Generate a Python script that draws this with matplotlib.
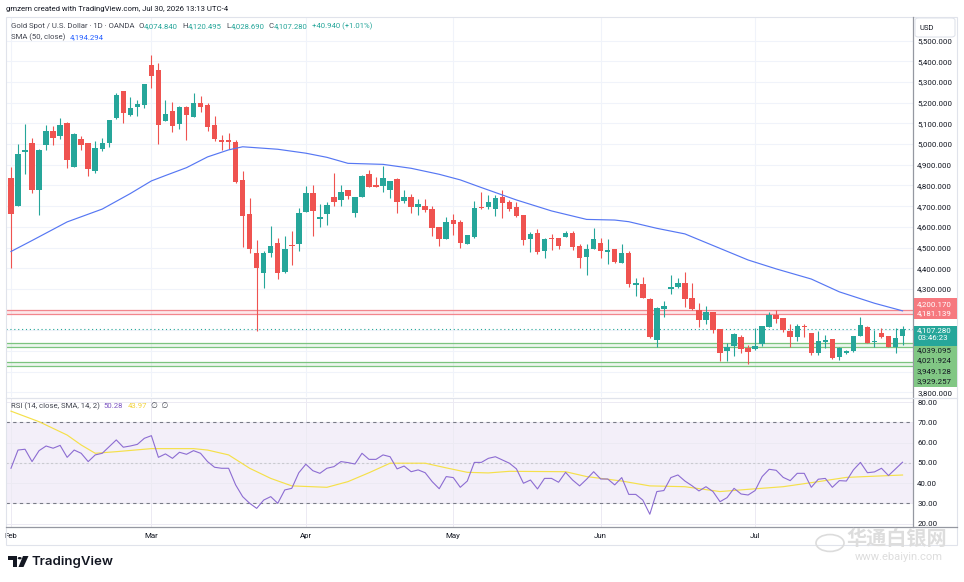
import matplotlib.pyplot as plt
from matplotlib.patches import Rectangle, FancyBboxPatch, Polygon, Circle
from matplotlib.lines import Line2D
import numpy as np
import pandas as pd

plt.rcParams['font.family'] = ['Roboto', 'DejaVu Sans']

W, H = 964, 582
UP, DOWN = '#26A69A', '#EF5350'
TXT = '#131722'
GRAY = '#434651'

# ---------------- data ----------------
dates = pd.bdate_range('2026-02-02', '2026-07-30')
dates = dates[dates != pd.Timestamp('2026-04-03')]  # Good Friday, no bar

opens = [4834.8, 4702.4, 4963.3, 5003.9, 4778.3, 4995.7, 5063.3, 5039.1, 5102.0, 4890.8,
         5024.7, 5003.9, 4870.0, 4976.3, 5003.9, 5124.6, 5255.1, 5140.6, 5180.7, 5188.9,
         5382.1, 5358.0, 5113.1, 5159.9, 5097.1, 5179.2, 5132.4, 5198.6, 5188.9, 5092.3,
         5018.4, 5018.4, 5010.2, 4826.6, 4660.9, 4472.5, 4378.7, 4475.4, 4520.8, 4383.6,
         4512.6, 4517.4, 4673.4, 4762.3, 4636.7, 4660.9, 4744.5, 4728.5, 4776.8, 4668.6,
         4745.9, 4854.1, 4801.0, 4797.6, 4778.3, 4830.0, 4726.6, 4743.0, 4697.6, 4701.0,
         4685.0, 4599.5, 4541.6, 4633.3, 4625.1, 4518.8, 4549.8, 4694.7, 4694.7, 4687.9,
         4743.0, 4718.8, 4696.1, 4657.5, 4543.0, 4570.5, 4483.6, 4546.4, 4546.4, 4552.7,
         4570.5, 4506.3, 4456.0, 4493.2, 4522.2, 4480.2, 4491.8, 4427.1, 4473.9, 4317.9,
         4324.2, 4251.7, 4053.6, 4204.8, 4298.6, 4308.2, 4327.5, 4255.1, 4198.5, 4150.2,
         4188.9, 4106.8, 4000.5, 4026.1, 4069.6, 4013.5, 4008.7, 4032.8, 4117.9, 4174.4,
         4158.5, 4098.5, 4066.7, 4121.3, 4086.0, 3992.3, 4045.4, 4057.0, 3972.9, 3989.4,
         4000.5, 4072.9, 4115.0, 4044.0, 4086.0, 4072.9, 4021.3, 4074.84]
highs = [4889.4, 5000.5, 5097.1, 5028.0, 4975.0, 5092.3, 5087.5, 5126.1, 5105.0, 5053.6,
         5040.6, 5006.0, 5013.5, 5028.0, 5118.0, 5245.4, 5258.0, 5229.0, 5213.1, 5291.0,
         5430.5, 5390.4, 5213.1, 5203.4, 5184.0, 5184.0, 5248.3, 5232.4, 5197.1, 5135.8,
         5044.0, 5053.6, 5019.8, 4870.0, 4738.2, 4536.7, 4483.6, 4604.4, 4547.8, 4556.0,
         4580.2, 4689.9, 4797.6, 4803.9, 4709.2, 4721.7, 4861.8, 4802.4, 4779.0, 4745.0,
         4850.7, 4874.9, 4842.5, 4894.2, 4824.0, 4834.8, 4778.3, 4758.9, 4733.3, 4734.8,
         4701.0, 4601.0, 4646.4, 4663.8, 4633.3, 4561.0, 4725.1, 4767.2, 4754.1, 4754.1,
         4778.3, 4730.0, 4720.3, 4659.0, 4575.4, 4588.4, 4547.8, 4565.7, 4548.0, 4578.7,
         4578.7, 4517.4, 4517.4, 4593.2, 4544.9, 4541.6, 4494.7, 4517.4, 4483.6, 4351.7,
         4359.4, 4258.0, 4214.5, 4242.0, 4366.2, 4353.0, 4380.7, 4327.5, 4230.9, 4217.9,
         4190.0, 4108.0, 4037.7, 4088.9, 4077.8, 4029.5, 4110.1, 4123.0, 4190.3, 4198.5,
         4160.0, 4129.5, 4129.5, 4129.5, 4087.0, 4098.5, 4077.8, 4058.0, 4018.0, 4005.3,
         4074.0, 4163.3, 4121.3, 4101.9, 4110.1, 4074.0, 4110.1, 4120.495]
lows = [4402.9, 4699.5, 4854.1, 4762.3, 4657.5, 4971.5, 4995.7, 5026.1, 4886.0, 4888.0,
        4970.0, 4847.3, 4861.8, 4966.7, 4987.5, 5121.3, 5103.4, 5137.2, 5137.2, 5175.9,
        5272.5, 5001.9, 5113.0, 5058.5, 5071.5, 5021.3, 5130.0, 5156.5, 5064.7, 5016.4,
        4971.5, 4976.3, 4810.6, 4504.4, 4475.4, 4098.5, 4306.3, 4456.0, 4349.8, 4375.8,
        4415.9, 4483.6, 4672.0, 4556.0, 4601.0, 4609.2, 4701.0, 4702.4, 4736.2, 4649.3,
        4744.0, 4791.3, 4792.0, 4770.1, 4741.1, 4668.6, 4716.9, 4668.6, 4658.9, 4670.5,
        4556.0, 4509.2, 4540.0, 4560.9, 4499.5, 4517.0, 4548.0, 4687.9, 4685.0, 4652.7,
        4644.4, 4678.3, 4646.4, 4511.1, 4480.2, 4467.6, 4451.2, 4488.4, 4491.8, 4551.0,
        4488.4, 4400.0, 4366.2, 4492.0, 4451.2, 4419.3, 4427.1, 4426.0, 4311.1, 4266.2,
        4255.0, 4061.8, 4021.3, 4166.2, 4275.8, 4303.4, 4214.5, 4198.5, 4117.9, 4130.9,
        4088.9, 3953.6, 3953.6, 3976.3, 3992.3, 3937.7, 4007.0, 4024.6, 4116.0, 4137.2,
        4093.7, 4018.4, 4050.2, 4066.7, 3981.2, 3981.2, 4016.4, 3961.8, 3957.0, 3984.5,
        3997.1, 4072.0, 4037.7, 4018.4, 4061.8, 4018.4, 3989.4, 4028.69]
closes = [4660.9, 4952.2, 4970.1, 4778.3, 4970.1, 5063.3, 5029.5, 5092.3, 4923.2, 5048.8,
          4995.7, 4881.2, 4981.2, 5003.9, 5116.4, 5237.2, 5148.8, 5173.0, 5193.7, 5288.9,
          5330.4, 5093.7, 5145.4, 5088.9, 5179.2, 5140.6, 5198.6, 5180.7, 5084.1, 5024.7,
          5011.6, 5011.6, 4818.4, 4652.7, 4494.7, 4402.9, 4472.5, 4507.7, 4375.8, 4494.7,
          4509.2, 4668.6, 4762.3, 4678.3, 4649.3, 4705.8, 4720.3, 4768.6, 4749.3, 4743.0,
          4845.9, 4794.2, 4794.2, 4834.8, 4821.7, 4721.7, 4743.0, 4694.7, 4710.6, 4681.6,
          4596.1, 4541.6, 4623.7, 4612.6, 4523.7, 4559.4, 4692.8, 4691.3, 4718.8, 4739.6,
          4716.9, 4687.9, 4652.7, 4536.7, 4567.2, 4480.2, 4543.0, 4543.0, 4509.2, 4570.5,
          4504.4, 4451.2, 4493.2, 4540.1, 4485.0, 4488.4, 4430.4, 4475.4, 4324.2, 4327.5,
          4256.5, 4066.7, 4206.8, 4216.4, 4308.2, 4327.5, 4253.1, 4203.4, 4148.8, 4188.9,
          4101.9, 3992.3, 4021.3, 4082.6, 4008.7, 3997.1, 4024.6, 4121.3, 4174.4, 4155.1,
          4101.9, 4069.6, 4121.3, 4115.0, 3992.3, 4048.8, 4053.6, 3968.1, 4016.4, 4000.5,
          4072.9, 4126.1, 4040.6, 4048.8, 4069.6, 4021.3, 4061.8, 4107.28]

# SMA(50) read at a set of bars
sma_at = [0, 3, 8, 13, 17, 20, 22, 25, 28, 31, 33, 38, 42, 45, 48, 53, 57, 61, 64, 67,
          72, 77, 82, 86, 88, 92, 96, 105, 109, 114, 118, 123, 127]
sma = [4481, 4534, 4624, 4686, 4761, 4822, 4848, 4886, 4938, 4972, 4987, 4975, 4956, 4936,
       4907, 4902, 4883, 4854, 4827, 4790, 4730, 4677, 4636, 4633, 4625, 4593, 4566, 4440,
       4397, 4348, 4286, 4231, 4194.294]

rsi = [47.3, 56.3, 56.7, 50.6, 56.0, 58.3, 57.2, 58.6, 52.7, 56.3,
       54.7, 50.6, 53.9, 54.7, 58.0, 61.3, 57.7, 58.3, 59.1, 62.1,
       63.4, 52.7, 54.4, 52.2, 55.2, 54.2, 56.0, 54.7, 50.6, 47.8,
       47.3, 47.3, 39.1, 33.3, 30.0, 27.5, 31.6, 33.3, 30.0, 36.6,
       37.4, 45.1, 49.3, 46.1, 44.8, 47.3, 48.1, 50.6, 50.1, 49.4,
       54.7, 51.7, 51.7, 53.9, 53.0, 47.0, 48.4, 45.6, 46.5, 45.1,
       40.7, 37.2, 43.2, 42.7, 37.9, 41.0, 50.2, 50.2, 52.2, 53.0,
       51.4, 49.8, 47.0, 39.9, 41.5, 37.1, 42.3, 42.3, 40.4, 45.3,
       41.5, 38.6, 41.9, 45.6, 42.0, 42.0, 39.1, 42.7, 34.4, 34.4,
       31.6, 24.6, 35.8, 36.3, 42.7, 44.0, 41.0, 38.7, 36.1, 38.2,
       35.8, 30.8, 32.8, 37.4, 34.6, 34.1, 36.3, 43.2, 46.8, 46.3,
       42.8, 41.2, 44.8, 44.8, 37.9, 41.9, 42.3, 37.9, 41.2, 41.0,
       46.5, 50.2, 45.1, 45.5, 47.3, 43.7, 47.0, 50.28]
rsi_ma_at = [0, 4, 8, 10, 12, 15, 20, 26, 28, 31, 34, 37, 40, 45, 48, 51, 54, 59, 62, 65,
             68, 71, 79, 82, 87, 91, 96, 101, 105, 110, 115, 119, 127]
rsi_ma = [75.5, 70.3, 63.7, 58.8, 54.7, 55.5, 57.0, 57.0, 56.3, 53.9, 47.3, 42.3, 38.6,
          37.9, 40.7, 45.1, 49.8, 49.8, 47.5, 45.3, 45.0, 45.8, 45.6, 43.2, 41.0, 38.6,
          38.2, 35.8, 36.9, 38.2, 40.7, 42.8, 43.97]

resistance = [4200.170, 4181.139]
support_a = [4039.095, 4021.924]
support_b = [3949.128, 3929.257]
change, change_pct = 40.940, 1.01
countdown = '03:46:23'
price_ticks = [3800, 3900, 4000, 4100, 4200, 4300, 4400, 4500, 4600, 4700, 4800,
               4900, 5000, 5100, 5200, 5300, 5400, 5500]
rsi_ticks = [20, 30, 40, 50, 60, 70, 80]


# ---------------- layout helpers (pixels, top-left origin) ----------------
def rect(x0, y0, x1, y1):
    return [x0 / W, 1 - y1 / H, (x1 - x0) / W, (y1 - y0) / H]


def pt(x, y):
    return (x / W, 1 - y / H)


fig = plt.figure(figsize=(W / 100, H / 100), dpi=100)
fig.patch.set_facecolor('white')
ax = fig.add_axes(rect(6, 17, 913, 397))
rx = fig.add_axes(rect(6, 398, 913, 527), sharex=ax)

x = np.arange(len(opens))
o, h, l, c = (np.array(v) for v in (opens, highs, lows, closes))
col = np.where(c >= o, UP, DOWN)
month_pos = [i for i in range(len(dates)) if i == 0 or dates[i].month != dates[i - 1].month]

# ---------------- price panel ----------------
ax.set_xlim(-0.71, 128.49)
ax.set_ylim(3778, 5614)
ax.vlines(x, l, h, colors=col, lw=0.8, zorder=3)
ax.bar(x, np.maximum(np.abs(c - o), 4), bottom=np.minimum(o, c), width=0.78,
       color=col, lw=0, zorder=4)
ax.plot(sma_at, sma, color='#5677F3', lw=0.85, zorder=5)

ax.axhspan(resistance[1], resistance[0], color='#F7525F', alpha=0.13, lw=0, zorder=2)
for p in resistance:
    ax.axhline(p, color='#F2868D', lw=0.9, zorder=2)
for pair in (support_a, support_b):
    ax.axhspan(pair[1], pair[0], color='#4CAF50', alpha=0.10, lw=0, zorder=2)
    for p in pair:
        ax.axhline(p, color='#7CC47F', lw=0.9, zorder=2)
ax.axhline(closes[-1], color=UP, lw=0.8, ls=(0, (1, 2.5)), zorder=2)

ax.set_yticks(price_ticks)
ax.set_yticklabels(['' if 3880 < t < 4220 else f'{t:,.3f}' for t in price_ticks])
ax.yaxis.tick_right()
ax.tick_params(axis='y', length=0, pad=3, labelsize=5.7, labelcolor=TXT)
ax.tick_params(axis='x', length=0, labelbottom=False)
ax.set_xticks(month_pos)
ax.grid(color='#F0F3FA', lw=0.8, zorder=0)
for s in ax.spines.values():
    s.set_visible(False)

# ---------------- RSI panel ----------------
rx.set_ylim(18.3, 82.0)
rx.axhspan(30, 70, color='#7E57C2', alpha=0.09, lw=0)
rx.set_yticks(rsi_ticks)
rx.set_yticklabels([f'{t:.2f}' for t in rsi_ticks])
rx.yaxis.tick_right()
rx.grid(color='#ECEAF3', lw=0.7, zorder=0)
for lvl in (70, 30):
    rx.axhline(lvl, color='#787B86', lw=0.8, ls=(0, (3, 3)))
rx.axhline(50, color='#C9CAD0', lw=0.8, ls=(0, (2, 2)))
rx.plot(x, rsi, color='#8C6CD2', lw=0.8, zorder=4)
rx.plot(rsi_ma_at, rsi_ma, color='#F5E04A', lw=0.85, zorder=3)
rx.set_xticks(month_pos)
rx.set_xticklabels([dates[i].strftime('%b') for i in month_pos])
rx.tick_params(axis='y', length=0, pad=3, labelsize=5.7, labelcolor=TXT)
rx.tick_params(axis='x', length=0, pad=4, labelsize=5.7, labelcolor=TXT)
for s in rx.spines.values():
    s.set_visible(False)

# ---------------- frame lines ----------------
fig.patches.append(Rectangle(pt(6, 545), (957 - 6) / W, (545 - 17) / H, transform=fig.transFigure,
                             fill=False, ec='#E0E3EB', lw=0.8))
for (x0, y0, x1, y1, cc) in [(913, 17, 913, 527, '#9598A1'), (6, 527, 957, 527, '#9598A1'),
                             (6, 397.5, 957, 397.5, '#E0E3EB')]:
    fig.lines.append(Line2D([x0 / W, x1 / W], [1 - y0 / H, 1 - y1 / H],
                            transform=fig.transFigure, color=cc, lw=0.9))

# USD box
fig.patches.append(FancyBboxPatch(pt(915, 37), 40 / W, 19 / H, boxstyle='round,pad=0,rounding_size=0.004',
                                  transform=fig.transFigure, fc='white', ec='#E0E3EB', lw=0.8, zorder=5))
fig.text(*pt(920, 27.5), 'USD', fontsize=5.5, color=TXT, va='center', zorder=6)


# price-axis label boxes
def axis_box(y0, y1, color, lines, tcolor):
    fig.patches.append(Rectangle(pt(913.5, y1), (957 - 913.5) / W, (y1 - y0) / H,
                                 transform=fig.transFigure, fc=color, ec='none', zorder=5))
    for yy, s in lines:
        fig.text(*pt(917, yy), s, fontsize=5.7, color=tcolor, va='center', zorder=6)


axis_box(298, 319, '#F6797F', [(304, f'{resistance[0]:,.3f}'), (313.5, f'{resistance[1]:,.3f}')], 'white')
axis_box(326, 346, UP, [(330.5, f'{closes[-1]:,.3f}'), (338.5, countdown)], 'white')
axis_box(346, 387, '#81C784', [(350, f'{support_a[0]:,.3f}'), (360.5, f'{support_a[1]:,.3f}'),
                                (371, f'{support_b[0]:,.3f}'), (381.5, f'{support_b[1]:,.3f}')], TXT)

# ---------------- legends ----------------
renderer = fig.canvas.get_renderer()


def chain(x0, y, parts, size=5.6):
    for s, color, gap in parts:
        t = fig.text(*pt(x0, y), s, color=color, fontsize=size, va='center', ha='left')
        x0 += t.get_window_extent(renderer=renderer).width + gap


fig.text(*pt(6, 9), 'gmzern created with TradingView.com, Jul 30, 2026 13:13 UTC-4',
         fontsize=5.6, color=TXT, va='center')
chain(11, 26, [('Gold Spot / U.S. Dollar · 1D · OANDA', GRAY, 4),
               ('O', GRAY, 0.3), (f'{opens[-1]:,.3f}', UP, 4),
               ('H', GRAY, 0.3), (f'{highs[-1]:,.3f}', UP, 4),
               ('L', GRAY, 0.3), (f'{lows[-1]:,.3f}', UP, 4),
               ('C', GRAY, 0.3), (f'{closes[-1]:,.3f}', UP, 4),
               (f'+{change:.3f} (+{change_pct:.2f}%)', UP, 0)])
chain(11, 37, [('SMA (50, close)', GRAY, 4), (f'{sma[-1]:,.3f}', '#2962FF', 0)])
chain(11, 406, [('RSI (14, close, SMA, 14, 2)', GRAY, 4), (f'{rsi[-1]:.2f}', '#7E57C2', 4),
                (f'{rsi_ma[-1]:.2f}', '#F2D33A', 4), ('∅  ∅', GRAY, 0)])

# ---------------- TradingView logo ----------------
for poly in ([(8, 556), (17, 556), (17, 567), (12.8, 567), (12.8, 560), (8, 560)],
             [(23, 556), (28.5, 556), (23.5, 567), (18.5, 567)]):
    fig.patches.append(Polygon([pt(a, b) for a, b in poly], closed=True,
                               transform=fig.transFigure, fc=TXT, ec='none'))
fig.patches.append(Circle(pt(19.7, 558.2), 2.0 / W, transform=fig.transFigure, fc=TXT, ec='none'))
fig.text(*pt(32, 562), 'TradingView', fontsize=9.5, weight='semibold', color=TXT, va='center',
         family=['Inter', 'DejaVu Sans'])

# ---------------- watermark ----------------
fig.patches.append(Circle(pt(830, 543), 14 / W, transform=fig.transFigure, fill=False,
                          ec='#DCDCDC', lw=1.2))
fig.text(*pt(897, 538.5), '华通白银网', family=['Noto Sans CJK SC', 'DejaVu Sans'], fontsize=14.5,
         weight='bold', color='#DDDDDD', ha='center', va='center')
fig.text(*pt(899, 557), 'www.ebaiyin.com', fontsize=8, color='#DDDDDD', ha='center', va='center')

fig.savefig('out.png', dpi=100)
